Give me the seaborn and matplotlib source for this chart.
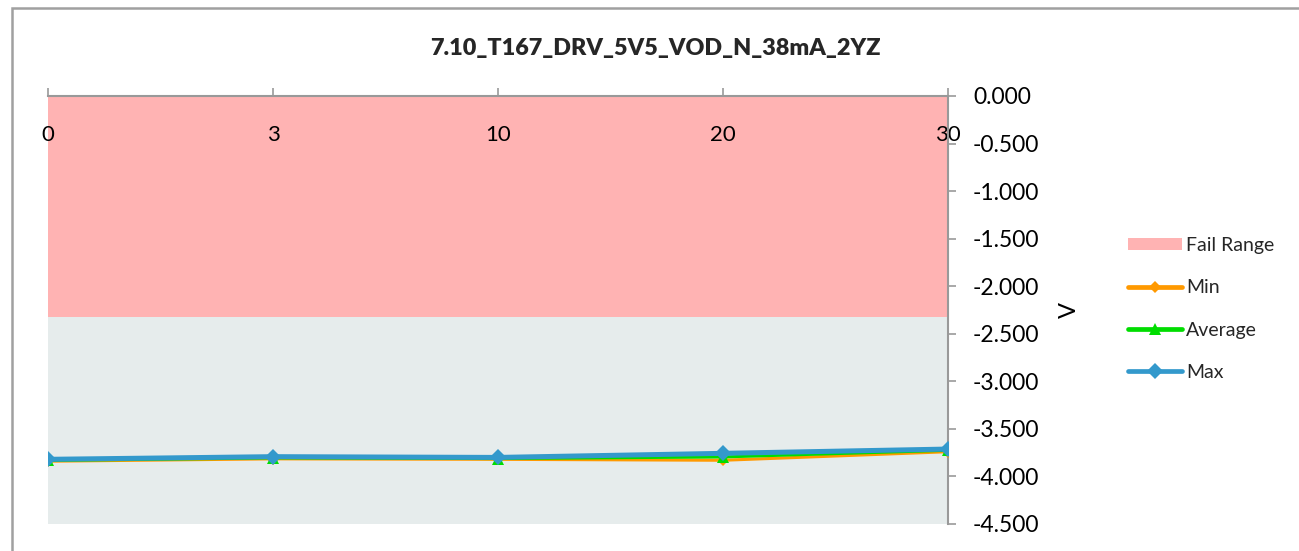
import numpy as np
import pandas as pd
import matplotlib
matplotlib.use("Agg")
import matplotlib.pyplot as plt
import seaborn as sns
from matplotlib.patches import Patch, Rectangle
from matplotlib.lines import Line2D

# ---- data ----
categories = ["0", "3", "10", "20", "30"]
min_vals = [-3.840, -3.815, -3.820, -3.830, -3.740]
avg_vals = [-3.832, -3.805, -3.812, -3.795, -3.725]
max_vals = [-3.820, -3.792, -3.800, -3.757, -3.712]
fail_limit = -2.325
y_ticks = [0.0, -0.5, -1.0, -1.5, -2.0, -2.5, -3.0, -3.5, -4.0, -4.5]
title = "7.10_T167_DRV_5V5_VOD_N_38mA_2YZ"

series_names = ["Min", "Average", "Max"]
series_vals = [min_vals, avg_vals, max_vals]

rows = []
for name, vals in zip(series_names, series_vals):
    for i, (c, v) in enumerate(zip(categories, vals)):
        rows.append({"pos": i, "cat": c, "series": name, "value": v})
df = pd.DataFrame(rows)

sns.set_theme(style="white")
plt.rcParams["font.family"] = ["Lato", "DejaVu Sans"]

colors = {"Min": "#FF9900", "Average": "#00DD00", "Max": "#3399CC"}
markers = {"Min": "D", "Average": "^", "Max": "D"}
lws = {"Min": 2.2, "Average": 2.2, "Max": 3.6}
msz = {"Min": 6, "Average": 8, "Max": 8}

fig = plt.figure(figsize=(12.99, 5.51), dpi=100)
ax = fig.add_axes([48/1299, 1-524/551, (948-48)/1299, (524-96)/551])

ymin, ymax = -4.5, 0.0
ax.set_facecolor("#E6ECEC")
ax.axhspan(fail_limit, ymax, color="#FFB3B3", lw=0, zorder=0)

for z, name in enumerate(series_names):
    sub = df[df["series"] == name]
    sns.lineplot(data=sub, x="pos", y="value", ax=ax, color=colors[name],
                 marker=markers[name], markersize=msz[name], markeredgewidth=0,
                 linewidth=lws[name], zorder=3 + z, legend=False)

ax.set_xlim(0, len(categories) - 1)
ax.set_ylim(ymin, ymax)
ax.set_xlabel("")

# x axis at top
ax.xaxis.tick_top()
ax.set_xticks(range(len(categories)))
ax.set_xticklabels(categories)
ax.tick_params(axis="x", which="both", top=True, bottom=False, direction="out",
               length=6, width=1.2, color="#999999", pad=-41, labelsize=16,
               labelcolor="black")

# y axis at right
ax.yaxis.tick_right()
ax.yaxis.set_label_position("right")
ax.set_yticks(y_ticks)
ax.set_yticklabels([f"{t:.3f}" for t in y_ticks])
ax.tick_params(axis="y", which="both", right=True, left=False, direction="out",
               length=6, width=1.2, color="#999999", pad=12, labelsize=16.5,
               labelcolor="black")
ax.set_ylabel("V", fontsize=17, labelpad=14, color="black")

for s in ["left", "bottom"]:
    ax.spines[s].set_visible(False)
for s in ["top", "right"]:
    ax.spines[s].set_visible(True)
    ax.spines[s].set_color("#999999")
    ax.spines[s].set_linewidth(1.5)
ax.grid(False)

fig.text(655/1299, 1-48/551, title, ha="center", va="center",
         fontsize=16.8, fontweight="heavy")

handles = [Patch(facecolor="#FFB3B3", edgecolor="none", label="Fail Range")]
for name in series_names:
    handles.append(Line2D([0], [0], color=colors[name], lw=3.4,
                          marker=markers[name], markersize=msz[name], markeredgewidth=0,
                          label=name))
fig.legend(handles=handles, loc="center left", bbox_to_anchor=(1110/1299, 1-309/551),
           frameon=False, fontsize=14, labelspacing=1.3, handlelength=2.8,
           handleheight=0.6, handletextpad=0.2)

# chart border
fig.add_artist(Rectangle((12/1299, -0.05), 1.2, 1 - 8/551 + 0.05,
                         transform=fig.transFigure, fill=False,
                         edgecolor="#A0A0A0", linewidth=1.8))

fig.savefig("out.png", dpi=100)
